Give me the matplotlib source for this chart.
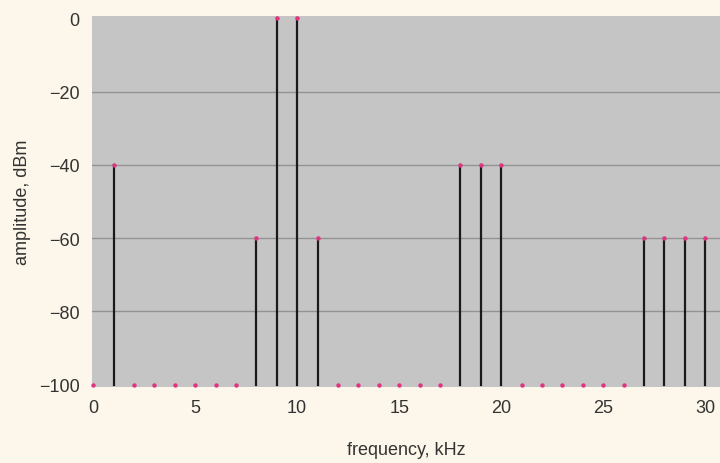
import matplotlib
matplotlib.use("Agg")
import matplotlib.pyplot as plt

plt.rcParams['font.family'] = ['Liberation Sans', 'DejaVu Sans']

# spectrum lines (kHz, dBm)
freq = list(range(0, 31))
amp = [-100, -40, -100, -100, -100, -100, -100, -100, -60, 0, 0, -60,
       -100, -100, -100, -100, -100, -100, -40, -40, -40,
       -100, -100, -100, -100, -100, -100, -60, -60, -60, -60]
yticks = [0, -20, -40, -60, -80, -100]
xticks = [0, 5, 10, 15, 20, 25, 30]

fig = plt.figure(figsize=(7.2, 4.64), dpi=100, facecolor='#fcf7ea')
ax = fig.add_axes([0.128, 0.164, 0.872, 0.799])
ax.set_facecolor('#c5c5c5')

for f, a in zip(freq, amp):
    if a > -100:
        ax.plot([f, f], [-100, a], color='#1a1a1a', lw=1.6, zorder=3)
ax.scatter(freq, amp, s=10, color='#e0347e', zorder=4, clip_on=False, linewidths=0)

ax.set_xlim(-0.05, 30.73)
ax.set_ylim(-100.6, 0.6)
ax.set_yticks(yticks)
ax.set_xticks(xticks)
for y in yticks[1:-1]:
    ax.axhline(y, color='#939393', lw=1.0, zorder=1)

for s in ax.spines.values():
    s.set_visible(False)
ax.tick_params(length=0, labelsize=13, colors='#333333')
ax.tick_params(axis='y', pad=9)
ax.tick_params(axis='x', pad=9)
ax.set_yticklabels(['0', '\u221220', '\u221240', '\u221260', '\u221280', '\u2212100'])

ax.set_xlabel('frequency, kHz', fontsize=13, color='#333333', labelpad=18)
ax.set_ylabel('amplitude, dBm', fontsize=13, color='#333333', labelpad=6)

fig.savefig('out.png', dpi=100, facecolor=fig.get_facecolor())
